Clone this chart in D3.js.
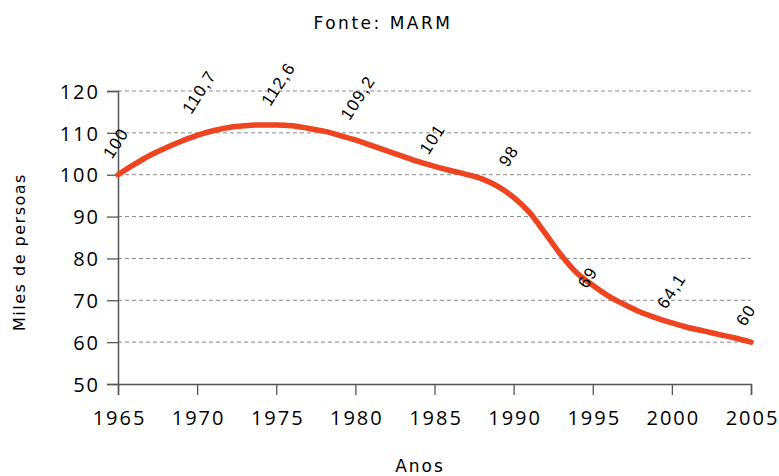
<!DOCTYPE html>
<html>
<head>
<meta charset="utf-8">
<script src="https://cdn.jsdelivr.net/npm/d3@7"></script>
<style>
  html, body { margin: 0; padding: 0; background: #fff; }
  svg { display: block; }
</style>
</head>
<body>
<svg id="chart" width="779" height="476"></svg>
<script>
// ---- Data ----
const years = [1965,1966,1967,1968,1969,1970,1971,1972,1973,1974,1975,1976,1977,1978,1979,1980,
  1981,1982,1983,1984,1985,1986,1987,1988,1989,1990,1991,1992,1993,1994,1995,1996,1997,1998,1999,2000,
  2001,2002,2003,2004,2005];
const values = [100,102.4,104.6,106.4,108.0,109.4,110.5,111.3,111.7,111.9,111.9,111.7,111.1,110.4,109.4,108.3,
  107.0,105.7,104.4,103.1,102.0,101.0,100.1,99.0,97.2,94.6,91.0,86.0,80.8,76.5,73.6,71.0,69.0,67.2,65.8,64.6,
  63.5,62.7,61.8,61.0,60.0];
const labelYears = [1965,1970,1975,1980,1985,1990,1995,2000,2005];
const labelValues = [100,110.7,112.6,109.2,101,98,69,64.1,60];
const labelTexts = ["100","110,7","112,6","109,2","101","98","69","64,1","60"];
const xTicks = [1965,1970,1975,1980,1985,1990,1995,2000,2005];
const yTicks = [50,60,70,80,90,100,110,120];
const gridValues = [60,70,80,90,100,110,120];
const titleText = "Fonte: MARM";
const xTitle = "Anos";
const yTitle = "Miles de persoas";

// ---- Layout ----
const svg = d3.select("#chart");
const mLeft = 118, mRight = 751, mTop = 91, mBottom = 384;

const x = d3.scaleLinear().domain([1965, 2005]).range([mLeft, mRight]);
const y = d3.scaleLinear().domain([50, 120]).range([mBottom, mTop]);

// grid
svg.append("g").selectAll("line").data(gridValues).join("line")
  .attr("x1", mLeft).attr("x2", mRight)
  .attr("y1", d => y(d)).attr("y2", d => y(d))
  .attr("stroke", "#8a8a8a").attr("stroke-width", 1)
  .attr("stroke-dasharray", "4,3");

// y axis
const yAxis = svg.append("g").attr("transform", `translate(${mLeft},0)`)
  .call(d3.axisLeft(y).tickValues(yTicks).tickSize(11).tickPadding(0).tickFormat(d3.format("d")));
yAxis.select(".domain").attr("stroke", "#555").attr("stroke-width", 1.5);
yAxis.selectAll(".tick line").attr("stroke", "#555").attr("stroke-width", 1.3);
yAxis.selectAll(".tick text")
  .attr("x", -18).attr("dy", "0.36em")
  .attr("fill", "#000")
  .style("font-family", "'Open Sans', sans-serif")
  .style("font-size", "20px")
  .style("font-weight", "500")
  .style("letter-spacing", "2px");

// x axis
const xAxis = svg.append("g").attr("transform", `translate(0,${mBottom})`)
  .call(d3.axisBottom(x).tickValues(xTicks).tickSize(11).tickFormat(d3.format("d")));
xAxis.select(".domain").attr("stroke", "#555").attr("stroke-width", 1.5);
xAxis.selectAll(".tick line").attr("stroke", "#555").attr("stroke-width", 1.3);
xAxis.selectAll(".tick text")
  .attr("y", 41).attr("dy", 0).attr("dx", 1)
  .attr("fill", "#000")
  .style("font-family", "'Open Sans', sans-serif")
  .style("font-size", "20px")
  .style("font-weight", "500")
  .style("letter-spacing", "2px");

// line
const line = d3.line()
  .x((d, i) => x(years[i]))
  .y(d => y(d))
  .curve(d3.curveMonotoneX);
svg.append("path").datum(values)
  .attr("d", line)
  .attr("fill", "none")
  .attr("stroke", "#ee4420")
  .attr("stroke-width", 5.5)
  .attr("stroke-linecap", "round")
  .attr("stroke-linejoin", "round");

// data labels
svg.append("g").selectAll("text").data(labelTexts).join("text")
  .attr("transform", (d, i) => `translate(${x(labelYears[i]) - 6},${y(labelValues[i]) - 15}) rotate(-57)`)
  .attr("fill", "#000")
  .style("font-family", "'Liberation Sans', Arial, sans-serif")
  .style("font-size", "17px")
  .style("letter-spacing", "1.2px")
  .text(d => d);

// titles
svg.append("text")
  .attr("x", 383).attr("y", 29).attr("text-anchor", "middle")
  .attr("fill", "#000")
  .style("font-family", "'DejaVu Sans', sans-serif")
  .style("font-size", "17px")
  .style("letter-spacing", "2.5px")
  .text(titleText);

svg.append("text")
  .attr("x", 420).attr("y", 472).attr("text-anchor", "middle")
  .attr("fill", "#000")
  .style("font-family", "'DejaVu Sans', sans-serif")
  .style("font-size", "17px")
  .style("letter-spacing", "2px")
  .text(xTitle);

svg.append("text")
  .attr("transform", "translate(25,252) rotate(-90)")
  .attr("text-anchor", "middle")
  .attr("fill", "#000")
  .style("font-family", "'DejaVu Sans', sans-serif")
  .style("font-size", "16px")
  .style("letter-spacing", "1.5px")
  .text(yTitle);
</script>
</body>
</html>
